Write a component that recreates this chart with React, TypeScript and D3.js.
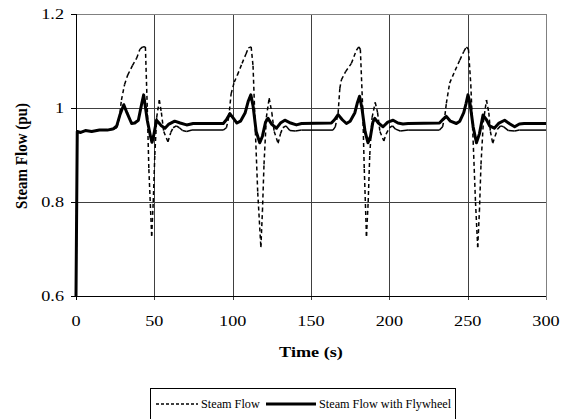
import React from "react";
import * as d3 from "d3";

// axis ticks
const xTicks = [0, 50, 100, 150, 200, 250, 300];
const yTicks = [0.6, 0.8, 1.0, 1.2];
const yTickLabels = ["0.6", "0.8", "1", "1.2"];

// Steam Flow (dashed series)
const steamT = [
  0, 0.8, 3, 6, 10, 15, 20, 24, 26, 27.5, 29, 31, 33, 36, 38.7, 40.8, 42.5, 44.3, 45.5, 46.5, 48.3, 49.3, 50.3,
  51.5, 53.2, 54.5, 56, 58.7, 60.5, 62, 64, 66, 68, 70.6, 74, 94, 96, 97.5, 99, 101, 103, 106, 108.5, 110, 111.8,
  113, 114.5, 116, 118, 119, 120, 121.5, 123.3, 125, 126.5, 129, 130.5, 132, 134, 136.5, 140, 144, 164, 165.5,
  167.3, 168.4, 169.4, 172, 175.8, 179, 180.5, 181.5, 183, 184, 185.4, 186.5, 187.5, 189, 191, 192.5, 194, 196.5,
  198, 200, 202, 204, 207, 212, 232, 234, 235.5, 236.4, 238.5, 242, 245, 247.5, 249.2, 250.5, 252, 253.5, 255,
  256.4, 257.5, 258.5, 260, 262, 263.5, 264.5, 266, 267.5, 269, 271, 273, 276, 280, 283, 300,
];
const steamV = [
  0.6, 0.95, 0.948, 0.952, 0.95, 0.953, 0.953, 0.955, 0.958, 0.975, 1.017, 1.05, 1.07, 1.09, 1.106, 1.125, 1.13,
  1.13, 1.0, 0.87, 0.728, 0.8, 0.9, 0.98, 1.017, 0.99, 0.95, 0.928, 0.948, 0.958, 0.962, 0.958, 0.952, 0.95, 0.953,
  0.953, 0.958, 0.98, 1.03, 1.055, 1.07, 1.095, 1.115, 1.128, 1.13, 1.09, 0.95, 0.82, 0.704, 0.78, 0.88, 0.98,
  1.021, 0.99, 0.95, 0.925, 0.945, 0.958, 0.962, 0.952, 0.951, 0.953, 0.953, 0.96, 0.989, 1.042, 1.06, 1.077,
  1.095, 1.123, 1.13, 1.125, 1.0, 0.87, 0.728, 0.8, 0.9, 0.98, 1.012, 0.99, 0.95, 0.93, 0.945, 0.958, 0.962,
  0.955, 0.951, 0.953, 0.953, 0.96, 0.985, 1.01, 1.053, 1.08, 1.102, 1.12, 1.13, 1.125, 1.05, 0.93, 0.8, 0.704,
  0.78, 0.88, 0.97, 1.017, 0.99, 0.95, 0.925, 0.94, 0.955, 0.962, 0.96, 0.952, 0.951, 0.953, 0.953,
];

// Steam Flow with Flywheel (thick series)
const flyT = [
  0, 0.8, 3, 6, 10, 15, 20, 24, 26, 28, 30.5, 32.5, 35.5, 37.5, 39.8, 42, 43.2, 45.5, 47.6, 48.5, 49.5, 51.4, 53,
  54.5, 56.8, 59, 63, 66.5, 70.6, 74.8, 80, 94, 96, 98.2, 100.5, 102.7, 105, 108, 110, 111.6, 113, 115, 117.3, 119,
  121, 122.6, 125, 128, 130.5, 133.3, 137, 140.7, 144, 163, 165, 167.3, 170, 172.6, 175, 178, 179.5, 181, 182.5,
  184.5, 186.4, 188, 189.5, 190.7, 193, 196, 199, 202.4, 205.5, 208.7, 212, 232, 234, 236.4, 239, 242.8, 245,
  247.5, 249, 250.2, 251.5, 253.5, 255.6, 257.5, 259.8, 262, 264, 267, 270, 273.6, 277, 280, 283, 286, 300,
];
const flyV = [
  0.6, 0.95, 0.948, 0.952, 0.95, 0.953, 0.953, 0.956, 0.962, 0.985, 1.007, 0.99, 0.967, 0.968, 0.974, 1.01,
  1.028, 0.974, 0.939, 0.927, 0.94, 0.974, 0.968, 0.962, 0.957, 0.965, 0.972, 0.968, 0.964, 0.967, 0.967, 0.967,
  0.975, 0.988, 0.978, 0.968, 0.972, 0.99, 1.015, 1.028, 1.005, 0.95, 0.926, 0.94, 0.97, 0.978, 0.965, 0.957,
  0.968, 0.974, 0.968, 0.964, 0.967, 0.968, 0.975, 0.986, 0.975, 0.967, 0.972, 0.99, 1.01, 1.025, 1.0, 0.95,
  0.926, 0.94, 0.97, 0.978, 0.968, 0.96, 0.97, 0.974, 0.968, 0.966, 0.967, 0.968, 0.975, 0.982, 0.972, 0.967,
  0.972, 0.99, 1.01, 1.028, 1.01, 0.96, 0.926, 0.945, 0.985, 0.975, 0.962, 0.957, 0.968, 0.974, 0.966, 0.96,
  0.966, 0.967, 0.967,
];

const font = "'Liberation Serif', 'Times New Roman', serif";
const sx = 1.3; // the source picture is stretched horizontally

const W = 567;
const H = 419;
const left = 76;
const right = 546;
const top = 14;
const bottom = 296;

const St = ({ x, y, anchor, size, bold, scale = sx, children }: any) => (
  <text
    transform={`translate(${x},${y}) scale(${scale},1)`}
    textAnchor={anchor}
    fontSize={size}
    fontWeight={bold ? "bold" : "normal"}
    fontFamily={font}
    fill="#000"
  >
    {children}
  </text>
);

export default function App() {
  const x = d3.scaleLinear().domain([0, 300]).range([left, right]);
  const y = d3.scaleLinear().domain([0.6, 1.2]).range([bottom, top]);

  const flyPts: [number, number][] = flyT.map((t, i) => [t, flyV[i]]);
  const line = d3
    .line<[number, number]>()
    .x((d) => x(d[0]))
    .y((d) => y(d[1]));

  // Excel restarts the dash on every segment: flat bits look solid, steep ones dashed
  const steamSegs = steamT.slice(1).map((t, i) => {
    const x1 = x(steamT[i]),
      y1 = y(steamV[i]),
      x2 = x(t),
      y2 = y(steamV[i + 1]);
    const steep = Math.abs(y2 - y1) > 1.2 * Math.abs(x2 - x1);
    return { x1, y1, x2, y2, steep };
  });

  const crisp = (v: number) => Math.round(v) + 0.5;

  return (
    <svg
      width={W}
      height={H}
      style={{ position: "absolute", left: 0, top: 0, background: "#fff" }}
    >
      <rect x={0} y={0} width={W} height={H} fill="#fff" />

      {/* grid */}
      {yTicks.slice(1, 3).map((v) => (
        <line key={"gy" + v} x1={left} x2={right} y1={crisp(y(v))} y2={crisp(y(v))} stroke="#404040" />
      ))}
      {xTicks.slice(1, 6).map((v) => (
        <line key={"gx" + v} x1={crisp(x(v))} x2={crisp(x(v))} y1={top} y2={bottom + 4} stroke="#404040" />
      ))}
      {/* plot border top/right */}
      <line x1={left} x2={right} y1={crisp(top)} y2={crisp(top)} stroke="#808080" />
      <line x1={crisp(right)} x2={crisp(right)} y1={top} y2={bottom + 4} stroke="#808080" />

      {/* axes */}
      <line x1={crisp(left)} x2={crisp(left)} y1={top} y2={bottom + 4} stroke="#000" />
      <line x1={left - 5} x2={right} y1={crisp(bottom)} y2={crisp(bottom)} stroke="#000" />
      {yTicks.map((v) => (
        <line key={"ty" + v} x1={left - 5} x2={left} y1={crisp(y(v))} y2={crisp(y(v))} stroke="#000" />
      ))}

      {/* tick labels */}
      {yTicks.map((v, i) => (
        <St key={"ly" + v} x={left - 12} y={y(v) + 5} anchor="end" size={14}>
          {yTickLabels[i]}
        </St>
      ))}
      {xTicks.map((v) => (
        <St key={"lx" + v} x={x(v)} y={bottom + 30} anchor="middle" size={14}>
          {v}
        </St>
      ))}

      {/* axis titles */}
      <St x={(left + right) / 2} y={357} anchor="middle" size={14} bold>
        Time (s)
      </St>
      <text
        transform={`translate(27,156) scale(1.15,1) rotate(-90)`}
        textAnchor="middle"
        fontSize={15}
        fontWeight="bold"
        fontFamily={font}
      >
        Steam Flow (pu)
      </text>

      {/* series */}
      <g>
        {steamSegs.map((s, i) => (
          <line
            key={"s" + i}
            x1={s.x1}
            y1={s.y1}
            x2={s.x2}
            y2={s.y2}
            stroke="#000"
            strokeWidth={1.5}
            strokeDasharray={s.steep ? "4,3" : undefined}
          />
        ))}
      </g>
      <path d={line(flyPts) || ""} fill="none" stroke="#000" strokeWidth={3} strokeLinejoin="round" />

      {/* legend */}
      <rect x={150.5} y={388.5} width={305} height={34} fill="#fff" stroke="#000" />
      <line x1={156} x2={198} y1={404} y2={404} stroke="#000" strokeWidth={1.5} strokeDasharray="3,2" />
      <St x={201} y={408} anchor="start" size={12} scale={1.02}>
        Steam Flow
      </St>
      <line x1={266} x2={316} y1={404} y2={404} stroke="#000" strokeWidth={3} />
      <St x={319} y={408} anchor="start" size={12} scale={1.02}>
        Steam Flow with Flywheel
      </St>
    </svg>
  );
}
